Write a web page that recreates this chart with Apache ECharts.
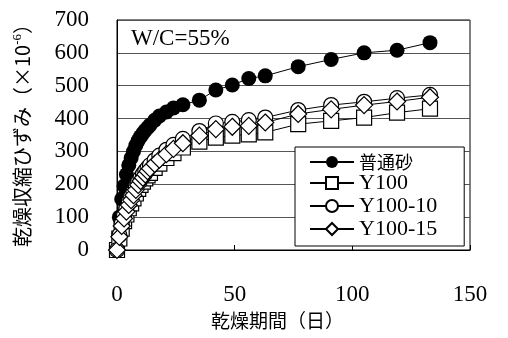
<!DOCTYPE html>
<html>
<head>
<meta charset="utf-8">
<script src="https://cdn.jsdelivr.net/npm/echarts@6/dist/echarts.min.js"></script>
<style>html,body{margin:0;padding:0;background:#fff;}#c{width:508px;height:338px;}</style>
</head>
<body>
<div id="c"></div>
<script>
const days = [0,1,2,3,4,5,6,7,8,9,10,11,12,13,14,16,18,21,24,28,35,42,49,56,63,77,91,105,119,133];
const futsuSuna = [0,100,155,195,230,258,280,300,318,333,345,355,364,372,380,395,408,420,432,442,456,487,502,522,530,558,580,600,608,631];
const y100 = [0,35,65,88,108,127,142,157,172,186,198,208,218,227,235,250,263,280,295,312,330,342,348,352,358,383,393,403,418,430];
const y100_10 = [0,45,80,105,127,147,163,178,193,208,220,231,241,250,258,273,287,305,320,338,362,385,390,395,403,426,441,451,462,472];
const y100_15 = [0,40,73,96,117,137,152,167,183,198,210,220,230,240,248,262,275,292,308,325,348,368,375,378,388,414,428,441,452,465];
const seriesNames = ['普通砂','Y100','Y100-10','Y100-15'];
const xTicks = [0,50,100,150];
const yTicks = [0,100,200,300,400,500,600,700];
const annotation = 'W/C=55%';

const serif = "'Liberation Serif','Noto Sans CJK JP',serif";
const cjk = "'Noto Sans CJK JP',sans-serif";

function pairs(vals){ return days.map((d,i)=>[d, vals[i]]); }

const openStyle = {color:'#fff', borderColor:'#000', borderWidth:1.2};
const chart = echarts.init(document.getElementById('c'), null, {renderer:'canvas'});
chart.setOption({
  animation:false,
  backgroundColor:'#fff',
  title:{text:annotation, left:131, top:27, padding:0,
    textStyle:{fontFamily:serif, fontSize:23, fontWeight:'normal', color:'#000'}},
  grid:{left:117, right:38, top:20, bottom:88, show:true, borderColor:'#000', borderWidth:1},
  legend:{
    orient:'vertical', left:295, top:147,
    backgroundColor:'#fff', borderColor:'#000', borderWidth:1,
    padding:[6,27,6,14], itemWidth:44, itemHeight:15, itemGap:1,
    data:seriesNames,
    formatter:function(n){ return /[^\x00-\x7f]/.test(n) ? '{c|'+n+'}' : '{l|'+n+'}'; },
    textStyle:{color:'#000', rich:{
      c:{fontFamily:cjk, fontSize:18, color:'#000', lineHeight:22},
      l:{fontFamily:serif, fontSize:22, color:'#000', lineHeight:22}
    }}
  },
  xAxis:{
    type:'value', min:xTicks[0], max:xTicks[xTicks.length-1], interval:50,
    name:'乾燥期間（日）', nameLocation:'middle', nameGap:56,
    nameTextStyle:{fontFamily:cjk, fontSize:19, color:'#000', padding:[0,32,0,0]},
    axisLine:{show:true, lineStyle:{color:'#000', width:1}},
    axisTick:{show:true, inside:true, length:5, lineStyle:{color:'#000'}},
    axisLabel:{margin:33, fontFamily:serif, fontSize:23, color:'#000'},
    splitLine:{show:false}
  },
  yAxis:{
    type:'value', min:yTicks[0], max:yTicks[yTicks.length-1], interval:100,
    name:'{a|乾燥収縮ひずみ（×10}{s|-6}{a|）}', nameLocation:'middle', nameGap:84, nameRotate:90,
    nameTextStyle:{padding:[0,0,0,9], rich:{
      a:{fontFamily:cjk, fontSize:20, color:'#000', lineHeight:22},
      s:{fontFamily:serif, fontSize:13, color:'#000', verticalAlign:'top', lineHeight:22, padding:[0,0,8,0]}
    }},
    axisLine:{show:true, lineStyle:{color:'#000', width:1}},
    axisTick:{show:false},
    axisLabel:{margin:28, fontFamily:serif, fontSize:23, color:'#000'},
    splitLine:{show:true, lineStyle:{color:'#555', width:1}}
  },
  series:[
    {name:seriesNames[0], type:'line', data:pairs(futsuSuna), symbol:'circle', symbolSize:15,
      itemStyle:{color:'#000'}, lineStyle:{color:'#000', width:1}},
    {name:seriesNames[1], type:'line', data:pairs(y100), symbol:'rect', symbolSize:15,
      itemStyle:openStyle, lineStyle:{color:'#000', width:1}},
    {name:seriesNames[2], type:'line', data:pairs(y100_10), symbol:'circle', symbolSize:15,
      itemStyle:openStyle, lineStyle:{color:'#000', width:1}},
    {name:seriesNames[3], type:'line', data:pairs(y100_15), symbol:'diamond', symbolSize:17,
      itemStyle:openStyle, lineStyle:{color:'#000', width:1}}
  ]
});
</script>
</body>
</html>
